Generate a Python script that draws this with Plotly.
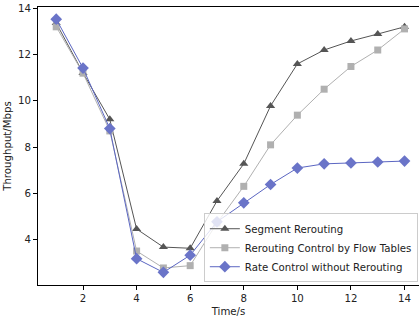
import plotly.graph_objects as go

time_s = [1, 2, 3, 4, 5, 6, 7, 8, 9, 10, 11, 12, 13, 14]
segment_rerouting = [13.35, 11.2, 9.2, 4.47, 3.69, 3.64, 5.68, 7.28, 9.78, 11.59, 12.19, 12.58, 12.88, 13.19]
flow_tables = [13.19, 11.19, 8.7, 3.52, 2.79, 2.89, 4.73, 6.31, 8.1, 9.38, 10.5, 11.48, 12.19, 13.1]
rate_control = [13.52, 11.41, 8.8, 3.19, 2.6, 3.34, 4.78, 5.6, 6.39, 7.1, 7.28, 7.32, 7.36, 7.4]

font = dict(family="DejaVu Sans", size=10.2, color="#222")

fig = go.Figure()
fig.add_trace(go.Scatter(
    x=time_s, y=segment_rerouting, mode="lines+markers", name="Segment Rerouting",
    line=dict(color="#555555", width=1),
    marker=dict(symbol="triangle-up", size=8, color="#555555")))
fig.add_trace(go.Scatter(
    x=time_s, y=flow_tables, mode="lines+markers", name="Rerouting Control by Flow Tables",
    line=dict(color="#b0b0b0", width=1),
    marker=dict(symbol="square", size=7, color="#b0b0b0")))
fig.add_trace(go.Scatter(
    x=time_s, y=rate_control, mode="lines+markers", name="Rate Control without Rerouting",
    line=dict(color="#5b66c2", width=1),
    marker=dict(symbol="diamond", size=9, color="#6a74c8")))

fig.update_layout(
    width=419, height=320,
    margin=dict(l=38, r=0, t=7, b=35),
    paper_bgcolor="white", plot_bgcolor="white",
    font=font,
    showlegend=True,
    legend=dict(x=0.997, y=0.01, xanchor="right", yanchor="bottom",
                bgcolor="rgba(255,255,255,0.8)", bordercolor="#cccccc", borderwidth=1,
                font=dict(family="DejaVu Sans", size=10.2, color="#222"),
                tracegroupgap=0, itemwidth=30),
)
fig.update_xaxes(
    range=[0.32, 14.54], tickvals=[2, 4, 6, 8, 10, 12, 14],
    showgrid=False, zeroline=False, showline=True, linecolor="black", linewidth=1,
    mirror=True, ticks="outside", ticklen=4, tickcolor="black",
    title=dict(text="Time/s", font=font, standoff=4))
fig.update_yaxes(
    range=[2.055, 14.045], tickvals=[4, 6, 8, 10, 12, 14],
    showgrid=False, zeroline=False, showline=True, linecolor="black", linewidth=1,
    ticks="outside", ticklen=4, tickcolor="black",
    title=dict(text="Throughput/Mbps", font=font, standoff=4))

fig.write_html("out.html")
